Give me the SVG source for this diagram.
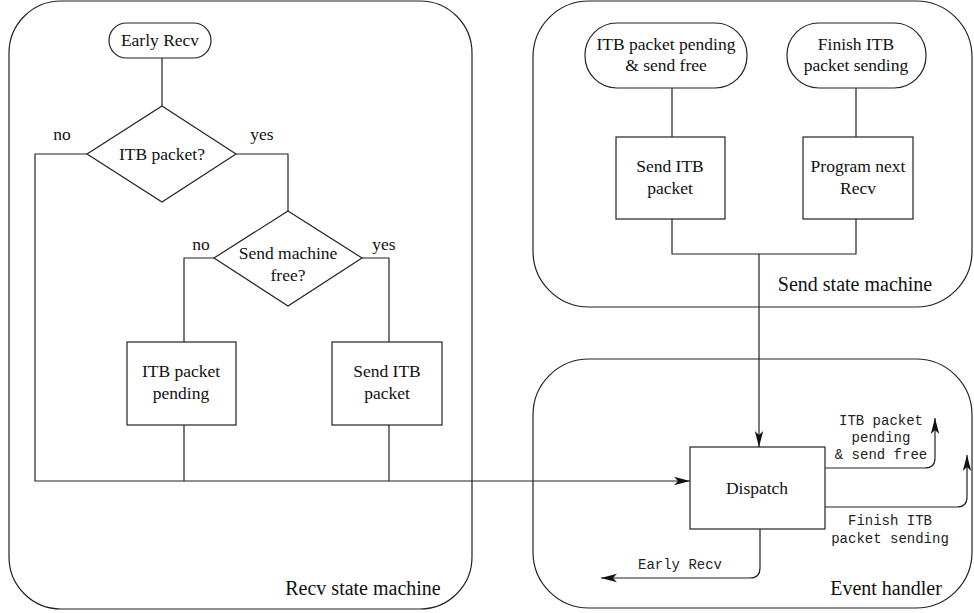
<svg xmlns="http://www.w3.org/2000/svg" width="974" height="613" viewBox="0 0 974 613">
<style>
  .ln{fill:none;stroke:#222;stroke-width:1.2}
  .bx{fill:#fff;stroke:#222;stroke-width:1.2}
  .ct{fill:none;stroke:#222;stroke-width:1.2}
  .t{font-family:"Liberation Serif","Times New Roman",serif;font-size:17.5px;fill:#111;text-anchor:middle}
  .tl{font-family:"Liberation Serif","Times New Roman",serif;font-size:20px;fill:#111;text-anchor:middle}
  .m{font-family:"Liberation Mono","Courier New",monospace;font-size:14px;fill:#222;text-anchor:middle}
</style>
<defs>
  <marker id="ah" markerUnits="userSpaceOnUse" markerWidth="18" markerHeight="10" refX="16" refY="5" orient="auto">
    <path d="M0,0.8 L16,5 L0,9.2 L4,5 z" fill="#111"/>
  </marker>
</defs>
<rect width="974" height="613" fill="#fff"/>

<g id="containers">
  <rect id="recv-sm" class="ct" x="9" y="1" width="463" height="608" rx="52" ry="52"/>
  <rect id="send-sm" class="ct" x="533" y="1" width="439" height="306" rx="56" ry="56"/>
  <rect id="event-h" class="ct" x="533" y="359" width="439" height="249" rx="56" ry="56"/>
  <text class="tl" x="363" y="595">Recv state machine</text>
  <text class="tl" x="855" y="291">Send state machine</text>
  <text class="tl" x="886" y="595">Event handler</text>
</g>

<g id="connectors">
  <path class="ln" d="M162,58 V106"/>
  <path class="ln" d="M87,154 H35 V481 H690" marker-end="url(#ah)"/>
  <path class="ln" d="M236,154 H288 V211"/>
  <path class="ln" d="M214,258 H184 V342"/>
  <path class="ln" d="M362,258 H389 V342"/>
  <path class="ln" d="M184,425 V481"/>
  <path class="ln" d="M389,425 V481"/>
  <path class="ln" d="M672,88 V137"/>
  <path class="ln" d="M856,88 V137"/>
  <path class="ln" d="M672,219 V254 H856 V219"/>
  <path class="ln" d="M759,254 V447" marker-end="url(#ah)"/>
  <path class="ln" d="M825,468 H925 Q935,468 935,458 V418" marker-end="url(#ah)"/>
  <path class="ln" d="M825,507 H957 Q967,507 967,497 V455" marker-end="url(#ah)"/>
  <path class="ln" d="M760,529 V568 Q760,578 750,578 H601" marker-end="url(#ah)"/>
  <text class="t" x="62" y="140">no</text>
  <text class="t" x="262" y="140">yes</text>
  <text class="t" x="201" y="250">no</text>
  <text class="t" x="384" y="250">yes</text>
  <text class="m"><tspan x="881" y="425">ITB packet</tspan><tspan x="881" y="442">pending</tspan><tspan x="881" y="459">&amp; send free</tspan></text>
  <text class="m"><tspan x="890" y="525">Finish ITB</tspan><tspan x="890" y="543">packet sending</tspan></text>
  <text class="m" x="680" y="569">Early Recv</text>
</g>

<g id="early-recv">
  <rect class="bx" x="109" y="23" width="102" height="35" rx="17.5" ry="17.5"/>
  <text class="t" x="160" y="46">Early Recv</text>
</g>
<g id="itb-packet-q">
  <polygon class="bx" points="162,106 236,154 162,202 87,154"/>
  <text class="t" x="162" y="160">ITB packet?</text>
</g>
<g id="send-free-q">
  <polygon class="bx" points="288,211 362,258 288,306 214,258"/>
  <text class="t"><tspan x="288" y="259">Send machine</tspan><tspan x="288" y="281">free?</tspan></text>
</g>
<g id="itb-pending">
  <rect class="bx" x="127" y="342" width="109" height="83"/>
  <text class="t"><tspan x="181" y="377">ITB packet</tspan><tspan x="181" y="399">pending</tspan></text>
</g>
<g id="send-itb-recv">
  <rect class="bx" x="332" y="342" width="110" height="83"/>
  <text class="t"><tspan x="387" y="377">Send ITB</tspan><tspan x="387" y="399">packet</tspan></text>
</g>
<g id="itb-pending-free">
  <rect class="bx" x="585" y="23" width="162" height="65" rx="32" ry="32"/>
  <text class="t"><tspan x="666" y="50">ITB packet pending</tspan><tspan x="666" y="71">&amp; send free</tspan></text>
</g>
<g id="finish-itb">
  <rect class="bx" x="787" y="23" width="139" height="65" rx="32" ry="32"/>
  <text class="t"><tspan x="856" y="50">Finish ITB</tspan><tspan x="856" y="71">packet sending</tspan></text>
</g>
<g id="send-itb">
  <rect class="bx" x="616" y="137" width="109" height="82"/>
  <text class="t"><tspan x="670" y="172">Send ITB</tspan><tspan x="670" y="194">packet</tspan></text>
</g>
<g id="program-next">
  <rect class="bx" x="803" y="137" width="110" height="82"/>
  <text class="t"><tspan x="858" y="172">Program next</tspan><tspan x="858" y="194">Recv</tspan></text>
</g>
<g id="dispatch">
  <rect class="bx" x="690" y="447" width="135" height="82"/>
  <text class="t" x="757" y="494">Dispatch</text>
</g>
</svg>
